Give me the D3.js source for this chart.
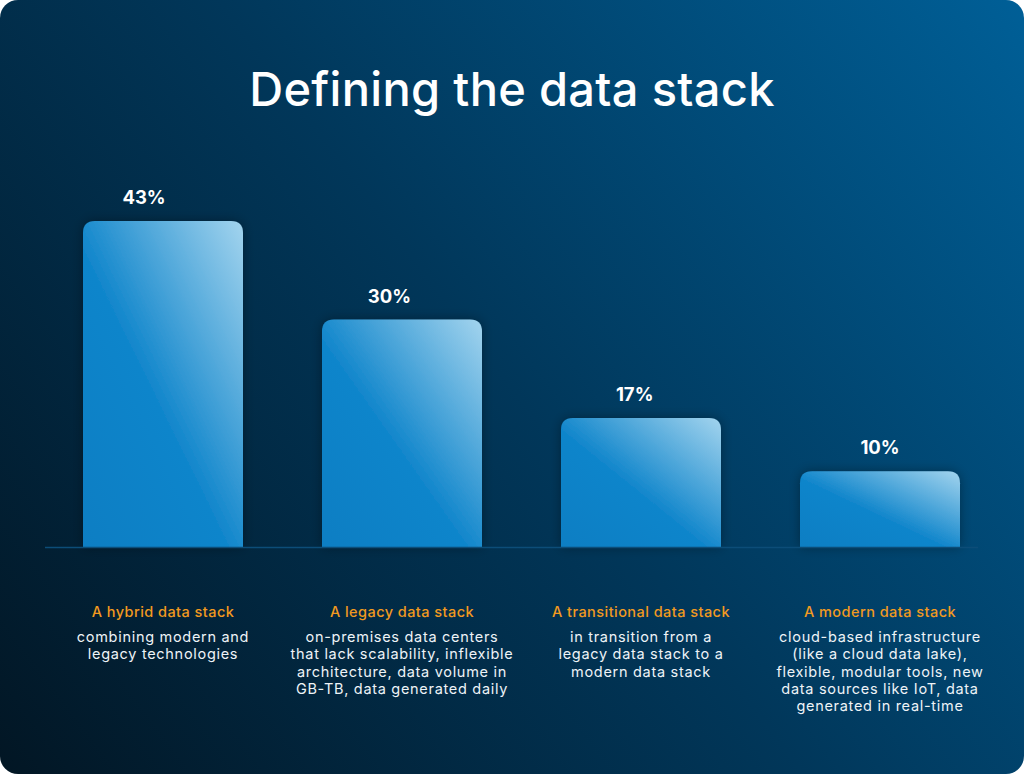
<!DOCTYPE html>
<html><head><meta charset="utf-8">
<script src="https://cdn.jsdelivr.net/npm/d3@7"></script>
<style>html,body{margin:0;padding:0;background:#fff;}svg{display:block;}</style>
</head><body>
<svg id="c" width="1024" height="774"></svg>
<script>
const title = "Defining the data stack";
const categories = ["A hybrid data stack","A legacy data stack","A transitional data stack","A modern data stack"];
const values = [43, 30, 17, 10];
const valueLabels = ["43%","30%","17%","10%"];
const descriptions = [
  ["combining modern and","legacy technologies"],
  ["on-premises data centers","that lack scalability, inflexible","architecture, data volume in","GB-TB, data generated daily"],
  ["in transition from a","legacy data stack to a","modern data stack"],
  ["cloud-based infrastructure","(like a cloud data lake),","flexible, modular tools, new","data sources like IoT, data","generated in real-time"]
];

const FONT = "Inter, 'Open Sans', sans-serif";
const svg = d3.select("#c");
const defs = svg.append("defs");

const bg = defs.append("linearGradient").attr("id","bg").attr("gradientUnits","userSpaceOnUse")
  .attr("x1",0).attr("y1",774).attr("x2",1024).attr("y2",0);
bg.append("stop").attr("offset",0).attr("stop-color","#021624");
bg.append("stop").attr("offset",0.5).attr("stop-color","#01375a");
bg.append("stop").attr("offset",1).attr("stop-color","#005f97");

const bar = defs.append("linearGradient").attr("id","bar")
  .attr("x1",0).attr("y1",1).attr("x2",1).attr("y2",0);
bar.append("stop").attr("offset",0).attr("stop-color","#0a7ec3");
bar.append("stop").attr("offset",0.45).attr("stop-color","#0f85cb");
bar.append("stop").attr("offset",1).attr("stop-color","#a3d4ee");

const sh = defs.append("filter").attr("id","sh").attr("x","-20%").attr("y","-20%").attr("width","140%").attr("height","140%");
sh.append("feDropShadow").attr("dx",0).attr("dy",0).attr("stdDeviation",6).attr("flood-color","#000").attr("flood-opacity",0.35);

svg.append("rect").attr("x",0).attr("y",0).attr("width",1024).attr("height",774).attr("rx",18).attr("fill","url(#bg)");

svg.append("text").attr("x",512).attr("y",106).attr("text-anchor","middle")
  .attr("fill","#fff").attr("font-family",FONT).attr("font-weight",500).attr("font-size",47)
  .attr("letter-spacing",0.3)
  .text(title);

const baseY = 547;
const x = d3.scaleBand().domain(categories).range([43.5, 999.5]).paddingInner(79/239).paddingOuter(79/239/2);
const xLabel = d3.scalePoint().domain(categories).range([144, 880]);
const y = d3.scaleLinear().domain([0, 43]).range([baseY, 221]);

const r = 12;
function barPath(d){
  const x0 = x(d.c), w = x.bandwidth(), y0 = y(d.v), y1 = y(0);
  return `M${x0},${y1}V${y0+r}Q${x0},${y0} ${x0+r},${y0}H${x0+w-r}Q${x0+w},${y0} ${x0+w},${y0+r}V${y1}Z`;
}
const data = categories.map((c,i)=>({c, v:values[i], lab:valueLabels[i], desc:descriptions[i]}));

svg.append("g").selectAll("path").data(data).join("path")
  .attr("d",barPath).attr("fill","url(#bar)").attr("filter","url(#sh)");

svg.append("line").attr("x1",45).attr("x2",978).attr("y1",baseY+0.5).attr("y2",baseY+0.5)
  .attr("stroke","#0c4d78").attr("stroke-width",1.5);

svg.append("g").selectAll("text").data(data).join("text")
  .attr("x",d=>xLabel(d.c)).attr("y",d=>y(d.v)-17)
  .attr("text-anchor","middle").attr("fill","#fff").attr("font-family",FONT).attr("font-weight",700).attr("font-size",18.5)
  .text(d=>d.lab);

svg.append("g").selectAll("text").data(data).join("text")
  .attr("x",d=>x(d.c)+x.bandwidth()/2).attr("y",617)
  .attr("text-anchor","middle").attr("fill","#f29a1f").attr("font-family",FONT).attr("font-weight",500).attr("font-size",14.5)
  .attr("letter-spacing",0.45)
  .text(d=>d.c);

const dg = svg.append("g").selectAll("text").data(data).join("text")
  .attr("x",d=>x(d.c)+x.bandwidth()/2).attr("y",642)
  .attr("text-anchor","middle").attr("fill","#eef3f7").attr("font-family",FONT).attr("font-weight",400).attr("font-size",14.5)
  .attr("letter-spacing",0.7);
dg.selectAll("tspan").data(d=>d.desc.map(t=>({t, cx:x(d.c)+x.bandwidth()/2}))).join("tspan")
  .attr("x",d=>d.cx).attr("dy",(d,i)=>i===0?0:17.3).text(d=>d.t);
</script>
</body></html>
